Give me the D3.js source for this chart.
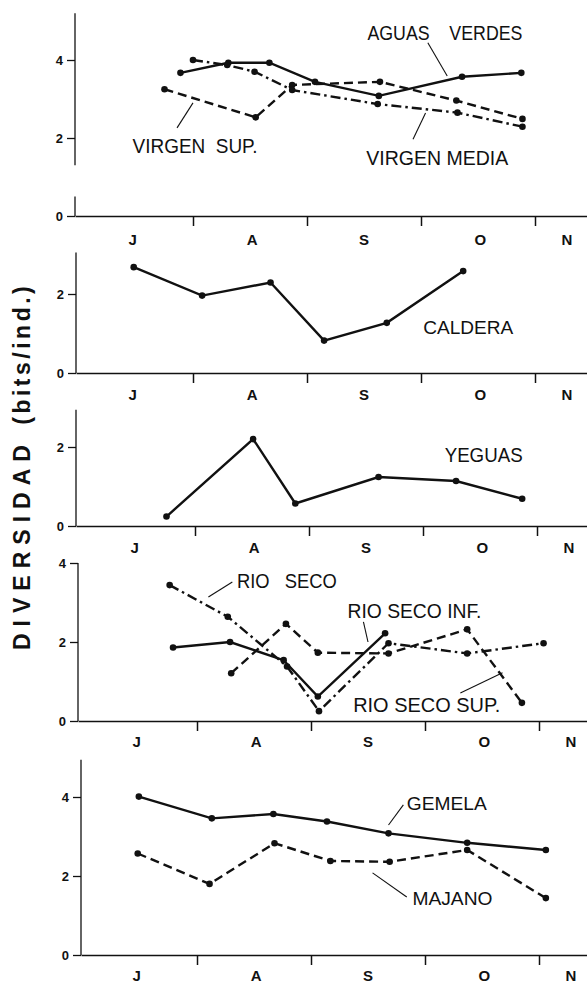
<!DOCTYPE html>
<html>
<head>
<meta charset="utf-8">
<script src="https://cdn.jsdelivr.net/npm/d3@7"></script>
<style>
  body { margin: 0; background: #fff; }
  svg { display: block; }
</style>
</head>
<body>
<div class="chart"></div>
<script>
// month labels along every x axis (x in months since 1 July)
const months = ['J', 'A', 'S', 'O', 'N'];
const monthPos = [0.47, 1.52, 2.5, 3.52, 4.28];
const monthTicks = [1, 2, 3, 4];

// panel 1
const aguasVerdesX = [0.89, 1.31, 1.67, 2.07, 2.63, 3.36, 3.88];
const aguasVerdesY = [3.67, 3.93, 3.93, 3.44, 3.08, 3.57, 3.67];
const virgenSupX = [0.75, 1.55, 1.87, 2.64, 3.31, 3.89];
const virgenSupY = [3.25, 2.53, 3.36, 3.44, 2.96, 2.49];
const virgenMediaX = [1.0, 1.30, 1.54, 1.87, 2.62, 3.32, 3.89];
const virgenMediaY = [4.0, 3.87, 3.70, 3.23, 2.87, 2.65, 2.29];

// panel 2
const calderaX = [0.48, 1.08, 1.68, 2.15, 2.70, 3.37];
const calderaY = [2.68, 1.96, 2.29, 0.82, 1.27, 2.58];

// panel 3
const yeguasX = [0.75, 1.51, 1.88, 2.61, 3.29, 3.87];
const yeguasY = [0.24, 2.2, 0.57, 1.24, 1.14, 0.69];

// panel 4
const rioSecoX = [0.76, 1.27, 1.79, 2.07, 2.68, 3.37, 4.04];
const rioSecoY = [3.44, 2.64, 1.38, 0.25, 1.97, 1.71, 1.97];
const rioSecoInfX = [0.79, 1.29, 1.76, 2.06, 2.65];
const rioSecoInfY = [1.86, 2.0, 1.54, 0.62, 2.22];
const rioSecoSupX = [1.30, 1.78, 2.06, 2.68, 3.37, 3.85];
const rioSecoSupY = [1.21, 2.46, 1.73, 1.71, 2.32, 0.46];

// panel 5
const gemelaX = [0.49, 1.13, 1.67, 2.14, 2.68, 3.37, 4.06];
const gemelaY = [4.01, 3.46, 3.57, 3.38, 3.08, 2.84, 2.66];
const majanoX = [0.48, 1.11, 1.68, 2.17, 2.69, 3.37, 4.06];
const majanoY = [2.57, 1.80, 2.83, 2.38, 2.36, 2.66, 1.44];

const SOLID = null, DASH = '9,5', DASHDOT = '10,4,2.5,4';

const width = 587, height = 986;
const monthW = 114;

const panels = [
  { zero: 216, unit: 39, x0: 79, axisX: 75, yTicks: [0, 2, 4], axisSegs: [[0, 0.5], [1.3, 5.2]], labelY: 240,
    series: [
      { x: aguasVerdesX, y: aguasVerdesY, dash: SOLID },
      { x: virgenSupX, y: virgenSupY, dash: DASH },
      { x: virgenMediaX, y: virgenMediaY, dash: DASHDOT }
    ],
    notes: [
      { text: 'AGUAS    VERDES', x: 2.53, y: 4.51, w: 155, fs: 21, lead: [3.06, 4.44, 3.23, 3.59] },
      { text: 'VIRGEN  SUP.', x: 0.47, y: 1.62, w: 125, fs: 21, lead: [0.86, 2.26, 1.0, 2.9] },
      { text: 'VIRGEN MEDIA', x: 2.52, y: 1.31, w: 142, fs: 21, lead: [2.93, 1.97, 3.04, 2.64] }
    ] },
  { zero: 373, unit: 39.5, x0: 79, axisX: 76, yTicks: [0, 2], axisSegs: [[0, 3.05]], labelY: 395,
    series: [{ x: calderaX, y: calderaY, dash: SOLID }],
    notes: [{ text: 'CALDERA', x: 3.02, y: 0.99, w: 90, fs: 19 }] },
  { zero: 526, unit: 39.5, x0: 81, axisX: 76, yTicks: [0, 2], axisSegs: [[0, 2.94]], labelY: 548,
    series: [{ x: yeguasX, y: yeguasY, dash: SOLID }],
    notes: [{ text: 'YEGUAS', x: 3.19, y: 1.62, w: 78, fs: 21 }] },
  { zero: 721, unit: 39.5, x0: 83, axisX: 78, yTicks: [0, 2, 4], axisSegs: [[0, 4]], labelY: 742,
    series: [
      { x: rioSecoX, y: rioSecoY, dash: DASHDOT },
      { x: rioSecoInfX, y: rioSecoInfY, dash: SOLID },
      { x: rioSecoSupX, y: rioSecoSupY, dash: DASH }
    ],
    notes: [
      { text: 'RIO   SECO', x: 1.35, y: 3.37, w: 100, fs: 21, lead: [1.10, 3.14, 1.31, 3.52] },
      { text: 'RIO SECO INF.', x: 2.32, y: 2.61, w: 134, fs: 21, lead: [2.46, 2.51, 2.5, 2.0] },
      { text: 'RIO SECO SUP.', x: 2.37, y: 0.23, w: 147, fs: 21, lead: [3.31, 0.71, 3.68, 1.22] }
    ] },
  { zero: 955, unit: 39.5, x0: 83, axisX: 81, yTicks: [0, 2, 4], axisSegs: [[0, 4.94]], labelY: 976,
    series: [
      { x: gemelaX, y: gemelaY, dash: SOLID },
      { x: majanoX, y: majanoY, dash: DASH }
    ],
    notes: [
      { text: 'GEMELA', x: 2.84, y: 3.67, w: 80, fs: 19, lead: [2.68, 3.29, 2.81, 3.80] },
      { text: 'MAJANO', x: 2.89, y: 1.27, w: 80, fs: 19, lead: [2.54, 2.08, 2.84, 1.47] }
    ] }
];

const svg = d3.select('.chart')
  .append('svg')
  .attr('width', width)
  .attr('height', height);

panels.forEach(p => {
  const xScale = d3.scaleLinear()
    .domain([(p.axisX - p.x0) / monthW, (width - p.x0) / monthW])
    .range([p.axisX, width]);
  const yScale = d3.scaleLinear()
    .domain([0, 4])
    .range([p.zero, p.zero - 4 * p.unit]);

  const g = svg.append('g');

  // x axis with downward month boundary ticks
  const xa = g.append('g')
    .attr('transform', `translate(0, ${p.zero})`)
    .call(d3.axisBottom(xScale).tickValues(monthTicks).tickFormat('').tickSizeInner(10).tickSizeOuter(0));
  xa.select('.domain').attr('stroke', '#111').attr('stroke-width', 1.5);
  xa.selectAll('.tick line').attr('stroke', '#111').attr('stroke-width', 1.5);

  // y axis
  const ya = g.append('g')
    .attr('transform', `translate(${p.axisX}, 0)`)
    .call(d3.axisLeft(yScale).tickValues(p.yTicks).tickFormat(d3.format('d')).tickSize(8).tickPadding(4));
  ya.select('.domain').remove();
  ya.selectAll('.tick line').attr('stroke', '#111').attr('stroke-width', 1.3);
  ya.selectAll('.tick text')
    .attr('font-family', 'Liberation Sans, Arial, sans-serif')
    .attr('font-weight', 'bold')
    .attr('font-size', 13)
    .attr('fill', '#111');
  p.axisSegs.forEach(s => {
    g.append('line')
      .attr('x1', p.axisX).attr('x2', p.axisX)
      .attr('y1', yScale(s[0])).attr('y2', yScale(s[1]))
      .attr('stroke', '#111').attr('stroke-width', 1.3);
  });

  // month labels
  g.selectAll('.month')
    .data(months)
    .enter()
    .append('text')
    .attr('x', (d, i) => xScale(monthPos[i]))
    .attr('y', p.labelY)
    .attr('dy', '0.36em')
    .attr('text-anchor', 'middle')
    .attr('font-family', 'Liberation Sans, Arial, sans-serif')
    .attr('font-weight', 'bold')
    .attr('font-size', 15)
    .attr('fill', '#111')
    .text(d => d);

  // series lines + dots
  const line = d3.line().x(d => xScale(d[0])).y(d => yScale(d[1]));
  p.series.forEach(s => {
    const pts = s.x.map((x, i) => [x, s.y[i]]);
    g.append('path')
      .datum(pts)
      .attr('d', line)
      .attr('fill', 'none')
      .attr('stroke', '#111')
      .attr('stroke-width', 2.4)
      .attr('stroke-dasharray', s.dash);
    g.selectAll(null)
      .data(pts)
      .enter()
      .append('circle')
      .attr('cx', d => xScale(d[0]))
      .attr('cy', d => yScale(d[1]))
      .attr('r', 3.3)
      .attr('fill', '#111');
  });

  // series names with leader lines
  p.notes.forEach(n => {
    g.append('text')
      .attr('x', xScale(n.x))
      .attr('y', yScale(n.y))
      .attr('textLength', n.w)
      .attr('lengthAdjust', 'spacingAndGlyphs')
      .attr('font-family', 'Liberation Sans, Arial, sans-serif')
      .attr('font-size', n.fs)
      .attr('fill', '#111')
      .style('white-space', 'pre')
      .text(n.text);
    if (n.lead) {
      g.append('line')
        .attr('x1', xScale(n.lead[0])).attr('y1', yScale(n.lead[1]))
        .attr('x2', xScale(n.lead[2])).attr('y2', yScale(n.lead[3]))
        .attr('stroke', '#111').attr('stroke-width', 1.1);
    }
  });
});

// shared y title
const title = svg.append('text')
  .attr('transform', 'translate(30, 650) rotate(-90)')
  .attr('font-family', 'Liberation Sans, Arial, sans-serif')
  .attr('font-weight', 'bold')
  .attr('font-size', 23)
  .attr('fill', '#111');
title.append('tspan').attr('letter-spacing', 7).text('DIVERSIDAD ');
title.append('tspan').attr('letter-spacing', 3.5).text('(bits/ind.)');
</script>
</body>
</html>
